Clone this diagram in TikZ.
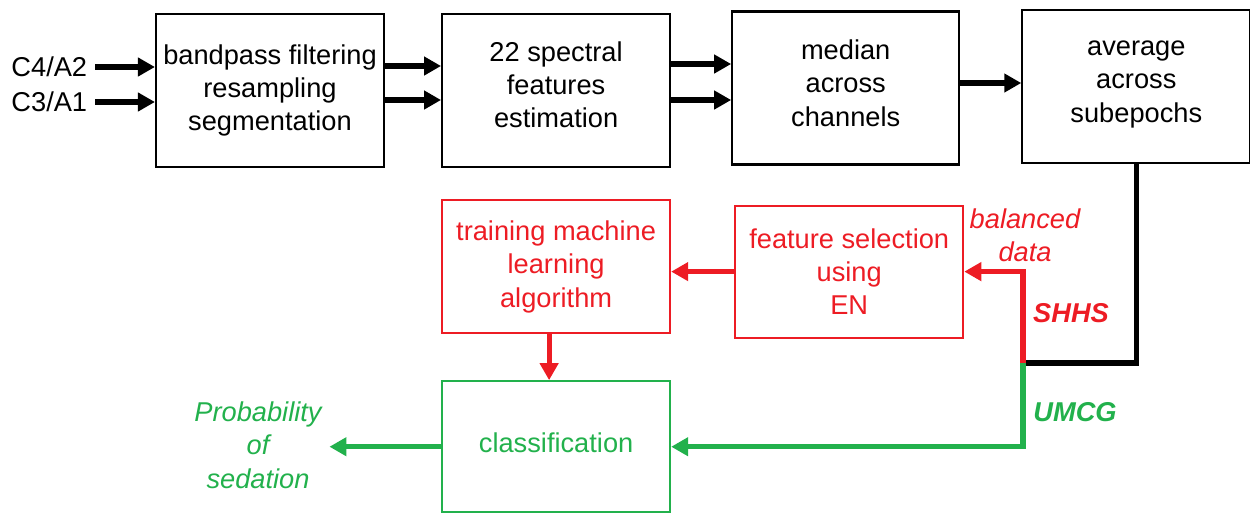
\documentclass[tikz,border=0pt]{standalone}
\usepackage{fontspec}
\setmainfont{Liberation Sans}
\usetikzlibrary{calc,arrows.meta,positioning}
\definecolor{trainColor}{RGB}{237,28,36}
\definecolor{testColor}{RGB}{34,177,76}
\newcommand{\blockfont}{\fontsize{15.5}{19}\selectfont}

\begin{document}
\begin{tikzpicture}[
        block/.style={draw, line width=1.2pt, minimum width=4.56cm, minimum height=3.06cm, align=center, font=\blockfont, inner sep=1pt},
        tblock/.style={block, draw=trainColor, text=trainColor, minimum height=2.66cm},
        cblock/.style={block, draw=testColor, text=testColor, minimum height=2.62cm},
        lbl/.style={font=\blockfont, align=center, inner sep=0.15cm},
        arr/.style={-{Triangle[length=0.34cm, width=0.36cm]}, line width=2.9pt},
        rarr/.style={arr, trainColor},
        garr/.style={arr, testColor}
      ]
      \useasboundingbox (0,0) rectangle (25,-10.24);
      % signal processing chain
      \node[block] (band) at (5.4,-1.81) {bandpass filtering\\resampling\\segmentation};
      \node[block, right=1.12cm of band] (spec) {22 spectral\\features\\estimation\\[-0.43cm]};
      \node[block, right=1.2cm of spec, minimum width=4.54cm, yshift=0.5mm] (med) {median\\across\\channels\\[-0.47cm]};
      \node[block, right=1.22cm of med, yshift=0.3mm] (avg) {average\\across\\subepochs\\[-0.47cm]};
      \node[lbl, anchor=east] (c4) at (1.9,-1.34) {C4/A2};
      \node[lbl, anchor=east] (c3) at (1.9,-2.04) {C3/A1};

      % training and classification
      \node[tblock, below=0.62cm of spec] (train) {training machine\\learning\\algorithm};
      \node[tblock, right=1.26cm of train, yshift=-1mm, minimum height=2.64cm] (feat) {feature selection\\using\\EN};
      \node[cblock, below=0.92cm of train] (cls) {classification\\[-0.51cm]};
      \node[lbl, text=testColor, font=\blockfont\itshape] (prob) at (5.16,-8.9) {Probability\\of\\sedation};
      \coordinate (split) at (20.46,-7.26);

      \node[lbl, text=trainColor, font=\blockfont\itshape, inner sep=0pt] (bal) at (20.5,-4.7) {balanced\\data};
      \node[lbl, text=trainColor, font=\blockfont\bfseries\itshape, inner sep=0pt] (shhs) at (21.42,-6.26) {SHHS};
      \node[lbl, text=testColor, font=\blockfont\bfseries\itshape, inner sep=0pt] (umcg) at (21.5,-8.24) {UMCG};

      \draw[arr] (c4) -- (c4 -| band.west);
      \draw[arr] (c3) -- (c3 -| band.west);
      \draw[arr] ([yshift=4.9mm]band.east) -- ([yshift=4.9mm]band.east -| spec.west);
      \draw[arr] ([yshift=-1.9mm]band.east) -- ([yshift=-1.9mm]band.east -| spec.west);
      \draw[arr] ([yshift=5.3mm]spec.east) -- ([yshift=5.3mm]spec.east -| med.west);
      \draw[arr] ([yshift=-1.9mm]spec.east) -- ([yshift=-1.9mm]spec.east -| med.west);
      \draw[arr] ([yshift=1mm]med.east) -- ([yshift=1mm]med.east -| avg.west);

      \draw[line width=3.1pt, line join=miter] (avg.south) |- (split);
      \draw[rarr] (split) |- (feat.east);
      \draw[rarr] (feat) -- (feat -| train.east);
      \draw[rarr] ([xshift=-1.4mm]train.south) -- ([xshift=-1.4mm]train.south |- cls.north);
      \draw[garr] (split) |- (cls.east);
      \draw[garr] (cls) -- (cls -| prob.east);
    \end{tikzpicture}
\end{document}
